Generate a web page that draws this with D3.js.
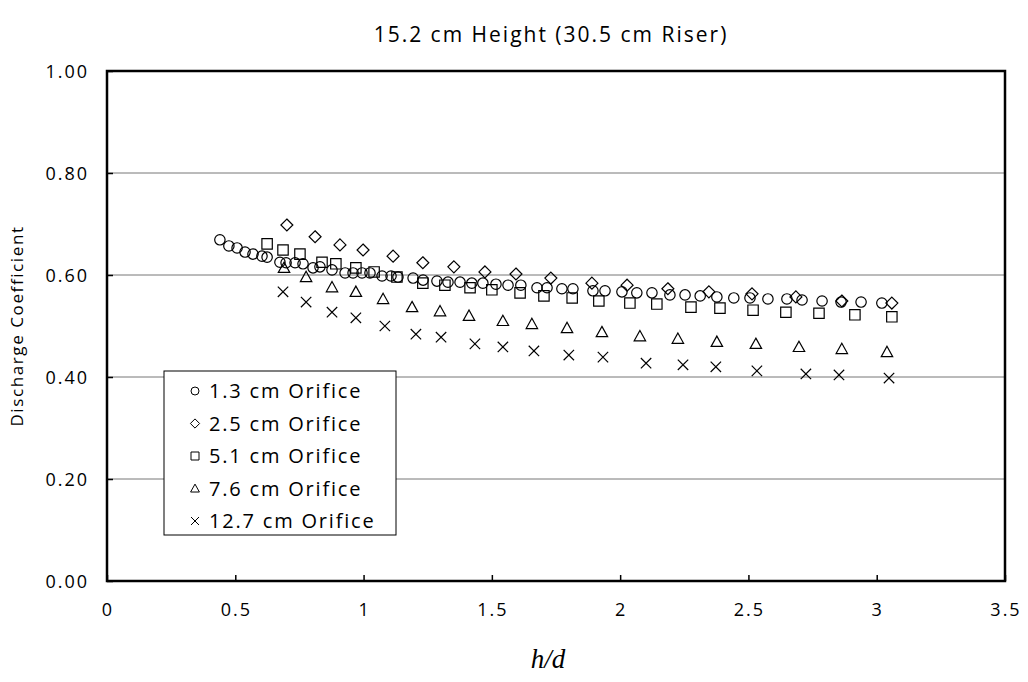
<!DOCTYPE html>
<html>
<head>
<meta charset="utf-8">
<script src="https://cdn.jsdelivr.net/npm/d3@7"></script>
<style>
  body { margin: 0; background: #fff; }
  svg text { font-family: "Open Sans", "Noto Sans", sans-serif; fill: #000; }
</style>
</head>
<body>
<div class="container"></div>
<script>
// h/d values and discharge coefficients
const orifice13X = [0.440, 0.475, 0.507, 0.538, 0.569, 0.604, 0.624, 0.674, 0.698, 0.733, 0.764, 0.803, 0.830, 0.877, 0.928, 0.959, 0.994, 1.025, 1.072, 1.107, 1.134, 1.193, 1.232, 1.286, 1.329, 1.376, 1.422, 1.465, 1.516, 1.563, 1.613, 1.676, 1.715, 1.773, 1.816, 1.894, 1.941, 2.007, 2.065, 2.124, 2.194, 2.253, 2.312, 2.377, 2.443, 2.506, 2.576, 2.650, 2.709, 2.787, 2.861, 2.939, 3.020]
const orifice13Y = [0.669, 0.657, 0.653, 0.645, 0.641, 0.637, 0.635, 0.625, 0.624, 0.624, 0.622, 0.614, 0.616, 0.610, 0.604, 0.604, 0.604, 0.604, 0.598, 0.598, 0.596, 0.594, 0.590, 0.588, 0.586, 0.586, 0.584, 0.584, 0.582, 0.580, 0.580, 0.575, 0.575, 0.573, 0.573, 0.569, 0.569, 0.567, 0.565, 0.565, 0.561, 0.561, 0.559, 0.557, 0.555, 0.555, 0.553, 0.553, 0.551, 0.549, 0.547, 0.547, 0.545]

const orifice25X = [0.701, 0.811, 0.908, 0.998, 1.115, 1.231, 1.352, 1.473, 1.594, 1.730, 1.890, 2.027, 2.186, 2.346, 2.514, 2.685, 2.864, 3.059]
const orifice25Y = [0.698, 0.675, 0.659, 0.649, 0.637, 0.624, 0.616, 0.606, 0.602, 0.594, 0.584, 0.580, 0.573, 0.567, 0.563, 0.557, 0.549, 0.545]

const orifice51X = [0.624, 0.686, 0.752, 0.838, 0.892, 0.970, 1.041, 1.130, 1.231, 1.317, 1.415, 1.500, 1.610, 1.703, 1.813, 1.917, 2.038, 2.143, 2.276, 2.389, 2.518, 2.646, 2.775, 2.915, 3.059]
const orifice51Y = [0.661, 0.649, 0.641, 0.625, 0.622, 0.614, 0.606, 0.596, 0.584, 0.580, 0.575, 0.571, 0.565, 0.559, 0.555, 0.549, 0.545, 0.543, 0.537, 0.535, 0.531, 0.527, 0.525, 0.522, 0.518]

const orifice76X = [0.690, 0.776, 0.877, 0.970, 1.076, 1.189, 1.298, 1.411, 1.543, 1.656, 1.793, 1.929, 2.077, 2.225, 2.377, 2.529, 2.697, 2.864, 3.040]
const orifice76Y = [0.614, 0.596, 0.576, 0.567, 0.553, 0.537, 0.529, 0.520, 0.510, 0.504, 0.496, 0.488, 0.480, 0.475, 0.469, 0.465, 0.459, 0.455, 0.449]

const orifice127X = [0.686, 0.776, 0.877, 0.970, 1.083, 1.204, 1.302, 1.434, 1.543, 1.664, 1.800, 1.933, 2.101, 2.245, 2.373, 2.533, 2.724, 2.853, 3.048]
const orifice127Y = [0.567, 0.547, 0.527, 0.516, 0.500, 0.484, 0.478, 0.465, 0.459, 0.451, 0.443, 0.439, 0.427, 0.424, 0.420, 0.412, 0.406, 0.404, 0.398]

const seriesNames = ["1.3 cm Orifice", "2.5 cm Orifice", "5.1 cm Orifice", "7.6 cm Orifice", "12.7 cm Orifice"]
const xTicks = [0, 0.5, 1, 1.5, 2, 2.5, 3, 3.5]
const yTicks = [0, 0.2, 0.4, 0.6, 0.8, 1.0]

// marker shapes, r = half size in px
const circle = { draw: (c, r) => { c.moveTo(r, 0); c.arc(0, 0, r, 0, 2 * Math.PI) } }
const diamond = { draw: (c, r) => { r = r * 1.15; c.moveTo(0, -r); c.lineTo(r, 0); c.lineTo(0, r); c.lineTo(-r, 0); c.closePath() } }
const square = { draw: (c, r) => { c.rect(-r, -r, 2 * r, 2 * r) } }
const triangle = { draw: (c, r) => { r = r * 1.1; c.moveTo(0, -r); c.lineTo(r, r * 0.8); c.lineTo(-r, r * 0.8); c.closePath() } }
const cross = { draw: (c, r) => { c.moveTo(-r, -r); c.lineTo(r, r); c.moveTo(r, -r); c.lineTo(-r, r) } }

const series = [
    { name: seriesNames[0], xs: orifice13X, ys: orifice13Y, shape: circle },
    { name: seriesNames[1], xs: orifice25X, ys: orifice25Y, shape: diamond },
    { name: seriesNames[2], xs: orifice51X, ys: orifice51Y, shape: square },
    { name: seriesNames[3], xs: orifice76X, ys: orifice76Y, shape: triangle },
    { name: seriesNames[4], xs: orifice127X, ys: orifice127Y, shape: cross }
]

const w = 1028
const h = 682
const plotLeft = 107, plotRight = 1005, plotTop = 71, plotBottom = 581

const xScale = d3.scaleLinear().domain([0, 3.5]).range([plotLeft, plotRight])
const yScale = d3.scaleLinear().domain([0, 1]).range([plotBottom, plotTop])

const svg = d3.select(".container")
    .append("svg")
    .attr("width", w)
    .attr("height", h)

// gridlines
svg.append("g")
    .selectAll("line")
    .data(yTicks.filter(d => d > 0 && d < 1))
    .enter()
    .append("line")
    .attr("x1", plotLeft).attr("x2", plotRight)
    .attr("y1", d => yScale(d)).attr("y2", d => yScale(d))
    .attr("stroke", "#777")
    .attr("stroke-width", 1)

// axes with inward ticks
const xAxis = d3.axisTop(xScale).tickValues(xTicks).tickSize(6).tickFormat("")
const yAxis = d3.axisRight(yScale).tickValues(yTicks).tickSize(6).tickFormat("")

svg.append("g")
    .attr("transform", "translate(0," + plotBottom + ")")
    .call(xAxis)
    .call(g => g.select(".domain").remove())
    .selectAll("line").attr("stroke", "#000").attr("stroke-width", 1.5)

svg.append("g")
    .attr("transform", "translate(" + plotLeft + ",0)")
    .call(yAxis)
    .call(g => g.select(".domain").remove())
    .selectAll("line").attr("stroke", "#000").attr("stroke-width", 1.5)

// tick labels
svg.append("g")
    .selectAll("text")
    .data(xTicks)
    .enter()
    .append("text")
    .attr("x", d => xScale(d) + 1)
    .attr("y", 616)
    .attr("text-anchor", "middle")
    .style("font-size", "18px")
    .style("letter-spacing", "2px")
    .text(d => d)

svg.append("g")
    .selectAll("text")
    .data(yTicks)
    .enter()
    .append("text")
    .attr("x", 89)
    .attr("y", d => yScale(d) + 7)
    .attr("text-anchor", "end")
    .style("font-size", "18px")
    .style("letter-spacing", "2px")
    .text(d => d.toFixed(2))

// frame
svg.append("rect")
    .attr("x", plotLeft).attr("y", plotTop)
    .attr("width", plotRight - plotLeft).attr("height", plotBottom - plotTop)
    .attr("fill", "none")
    .attr("stroke", "#000")
    .attr("stroke-width", 2.5)

// markers
const marker = (shape, r) => d3.symbol().type({ draw: (c) => shape.draw(c, r) })()

series.forEach((s) => {
    svg.append("g")
        .selectAll("path")
        .data(s.xs.map((x, i) => [x, s.ys[i]]))
        .enter()
        .append("path")
        .attr("transform", d => "translate(" + xScale(d[0]) + "," + yScale(d[1]) + ")")
        .attr("d", marker(s.shape, 5.2))
        .attr("fill", "none")
        .attr("stroke", "#000")
        .attr("stroke-width", 1.2)
})

// legend
const legend = svg.append("g").attr("transform", "translate(164,371)")
legend.append("rect")
    .attr("width", 232).attr("height", 164)
    .attr("fill", "#fff")
    .attr("stroke", "#000")
    .attr("stroke-width", 1)

const legendRow = legend.selectAll(".row")
    .data(series)
    .enter()
    .append("g")
    .attr("class", "row")
    .attr("transform", (d, i) => "translate(31," + (20 + i * 32.5) + ")")

legendRow.append("path")
    .attr("d", d => marker(d.shape, 4))
    .attr("fill", "none")
    .attr("stroke", "#000")
    .attr("stroke-width", 1)

legendRow.append("text")
    .attr("x", 14)
    .attr("y", 7)
    .style("font-size", "20px")
    .style("letter-spacing", "1.8px")
    .text(d => d.name)

// titles
svg.append("text")
    .attr("x", 551)
    .attr("y", 42)
    .attr("text-anchor", "middle")
    .style("font-size", "21px")
    .style("letter-spacing", "2px")
    .text("15.2 cm Height (30.5 cm Riser)")

svg.append("text")
    .attr("transform", "translate(23," + ((plotTop + plotBottom) / 2) + ") rotate(-90)")
    .attr("text-anchor", "middle")
    .style("font-size", "17px")
    .style("letter-spacing", "1.6px")
    .text("Discharge Coefficient")

svg.append("text")
    .attr("x", 548)
    .attr("y", 668)
    .attr("text-anchor", "middle")
    .style("font-family", "'Liberation Serif', 'DejaVu Serif', serif")
    .style("font-style", "italic")
    .style("font-size", "27px")
    .text("h/d")
</script>
</body>
</html>
